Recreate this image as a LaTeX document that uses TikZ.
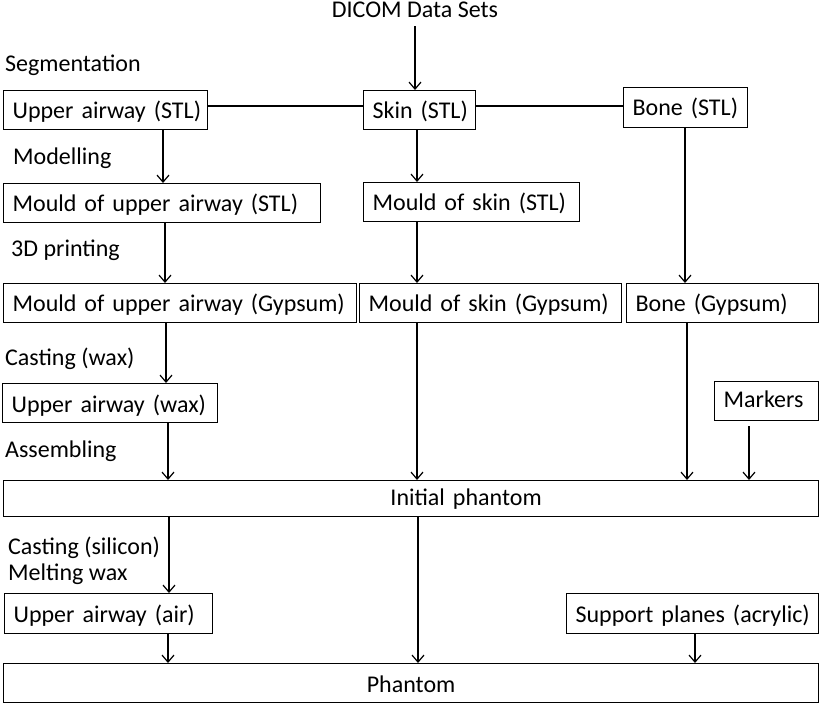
\documentclass[tikz,border=0pt]{standalone}
\usepackage{fontspec}
\setmainfont{Carlito}
\usetikzlibrary{arrows.meta}
\hyphenpenalty=10000
\exhyphenpenalty=10000

\begin{document}
\begin{tikzpicture}[x=1pt,y=-1pt,font=\fontsize{24}{28}\selectfont,
  box/.style={draw,line width=1.2pt,anchor=north west,inner xsep=9pt,inner ysep=0pt,text height=28pt,text depth=11pt,align=left},
  lbl/.style={anchor=base west,inner sep=0pt},
  arr/.style={line width=1.2pt,-{Straight Barb[length=7pt,width=12pt]}}]
\useasboundingbox (0,0) rectangle (822,703);

% steps
\node[lbl] (seg) at (5,72) {Segmentation};
\node[lbl] (mod) at (13,165) {Modelling};
\node[lbl] (prn) at (11,257) {3D printing};
\node[lbl] (cwx) at (5,365) {Casting (wax)};
\node[lbl] (asm) at (5,457) {Assembling};
\node[lbl] (csi) at (8,554) {Casting (silicon)};
\node[lbl] (mlt) at (8,580) {Melting wax};

% boxes
\node[anchor=base,inner sep=0pt] (dicom) at (415,18) {DICOM Data Sets};
\node[box,text width=186pt] (uastl) at (3,90) {Upper~airway~(STL)};
\node[box,text width=94pt] (skstl) at (363,90) {Skin~(STL)};
\node[box,text width=106pt,text height=28pt,text depth=12pt] (bostl) at (623,87) {Bone~(STL)};
\node[box,text width=299pt] (mastl) at (3,183) {Mould~of~upper~airway~(STL)};
\node[box,text width=198pt] (msstl) at (363,182) {Mould~of~skin~(STL)};
\node[box,text width=335pt] (magyp) at (3,283) {Mould~of~upper~airway~(Gypsum)};
\node[box,text width=244pt] (msgyp) at (359,283) {Mould~of~skin~(Gypsum)};
\node[box,text width=174pt] (bogyp) at (626,283) {Bone~(Gypsum)};
\node[box,text width=197pt,text height=29pt,text depth=10pt] (uawax) at (2,383) {Upper~airway~(wax)};
\node[box,text width=86pt,text height=26pt,text depth=13pt] (mark) at (714,381) {Markers};
\node[box,text width=797pt,text height=25pt,text depth=11pt,align=center] (init) at (3,480) {\hspace*{110pt}Initial~phantom};
\node[box,text width=190pt,text height=29pt,text depth=11pt] (uaair) at (4,593) {Upper~airway~(air)};
\node[box,text width=234pt,text height=29pt,text depth=11pt] (supp) at (566,593) {Support~planes~(acrylic)};
\node[box,text width=797pt,text height=29pt,text depth=10pt,align=center] (phan) at (3,663) {Phantom};

% connectors
\draw[arr] (dicom.south) ++(0,8) -- (dicom.south |- skstl.north);
\draw[line width=1.2pt] (uastl.east |- 0,106) -- (skstl.west |- 0,106);
\draw[line width=1.2pt] (skstl.east |- 0,106) -- (bostl.west |- 0,106);
\draw[arr] (uastl.south -| 163,0) -- (mastl.north -| 163,0);
\draw[arr] (skstl.south -| 417,0) -- (msstl.north -| 417,0);
\draw[arr] (mastl.south -| 165,0) -- (magyp.north -| 165,0);
\draw[arr] (msstl.south -| 417,0) -- (msgyp.north -| 417,0);
\draw[arr] (bostl.south -| 685,0) -- (bogyp.north -| 685,0);
\draw[arr] (magyp.south -| 166,0) -- (uawax.north -| 166,0);
\draw[arr] (uawax.south -| 168,0) -- (init.north -| 168,0);
\draw[arr] (msgyp.south -| 417,0) -- (init.north -| 417,0);
\draw[arr] (bogyp.south -| 687,0) -- (init.north -| 687,0);
\draw[arr] (mark.south -| 749,0) ++(0,5) -- (init.north -| 749,0);
\draw[arr] (init.south -| 169,0) -- (uaair.north -| 169,0);
\draw[arr] (init.south -| 418,0) -- (phan.north -| 418,0);
\draw[arr] (uaair.south -| 168,0) -- (phan.north -| 168,0);
\draw[arr] (supp.south -| 695,0) -- (phan.north -| 695,0);
\end{tikzpicture}
\end{document}
